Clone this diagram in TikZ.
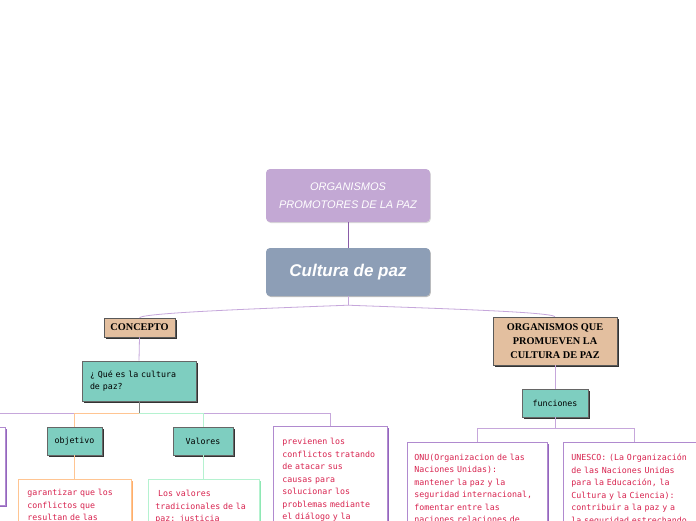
\documentclass[tikz,border=0pt]{standalone}
\usepackage{fontspec}
\setmainfont{Liberation Sans}
\newfontfamily\monof{DejaVu Sans Mono}
\newfontfamily\serifb{Liberation Serif}
\usetikzlibrary{shadows,calc}
\definecolor{topP}{HTML}{C3A8D4}
\definecolor{slate}{HTML}{8D9EB6}
\definecolor{tanC}{HTML}{E3BF9F}
\definecolor{tealC}{HTML}{7ECEC0}
\definecolor{lineP}{HTML}{C6A7DB}
\definecolor{darkP}{HTML}{8A5CA8}
\definecolor{orangeL}{HTML}{FFC592}
\definecolor{orangeD}{HTML}{FFAE6A}
\definecolor{greenL}{HTML}{B5F2D0}
\definecolor{greenD}{HTML}{8EE8B4}
\definecolor{boxP}{HTML}{B08ACF}
\definecolor{boxPD}{HTML}{9466BE}
\definecolor{txtR}{HTML}{D8234F}
\tikzset{
  topbox/.style={fill=topP, rounded corners=4pt, text=white, align=center,
    font=\itshape\fontsize{11}{18}\selectfont, inner sep=0pt,
    minimum width=164pt, minimum height=53pt,
    drop shadow={shadow xshift=0.8pt, shadow yshift=-1pt, fill=black, opacity=0.15}},
  cultbox/.style={fill=slate, rounded corners=4pt, text=white,
    font=\bfseries\itshape\fontsize{17}{20}\selectfont, inner sep=0pt,
    minimum width=164pt, minimum height=48pt,
    drop shadow={shadow xshift=0.8pt, shadow yshift=-1pt, fill=black, opacity=0.25}},
  tanbox/.style={fill=tanC, draw=black!65, line width=0.6pt, align=center,
    font=\serifb\bfseries\fontsize{10.3}{14}\selectfont, inner sep=0pt,
    drop shadow={shadow xshift=2pt, shadow yshift=-2pt, fill=black!80, opacity=1}},
  tealbox/.style={fill=tealC, draw=black!60, line width=0.6pt,
    font=\monof\fontsize{8.3}{12.5}\selectfont, inner sep=0pt,
    drop shadow={shadow xshift=2pt, shadow yshift=-2pt, fill=black!80, opacity=1}},
  txtbox/.style={fill=white, draw=#1, line width=0.8pt, anchor=north west,
    align=left, text=txtR, inner xsep=8pt, inner ysep=10pt,
    font=\monof\fontsize{8.3}{12.5}\selectfont},
  edgeP/.style={draw=lineP, line width=0.8pt},
}
\begin{document}
\begin{tikzpicture}[x=1pt, y=-1pt]
\useasboundingbox (0,0) rectangle (696,520);
\begin{scope}
\clip (0,0) rectangle (696,520);
\fill[white] (0,0) rectangle (696,520);

% main nodes
\node[topbox] (org) at (348,195.5) {ORGANISMOS\\PROMOTORES DE LA PAZ};
\node[cultbox] (cult) at (348,272) {Cultura de paz};
\node[tanbox, minimum width=71pt, minimum height=19pt] (concept) at (139.5,327.5) {CONCEPTO};
\node[tanbox, minimum width=124pt, minimum height=48pt] (orgq) at (555,341) {ORGANISMOS QUE\\PROMUEVEN LA\\CULTURA DE PAZ};

% left branch
\node[tealbox, minimum width=114pt, minimum height=40pt, text width=98pt, align=left] (que) at (139,381) {¿ Qué es la cultura\\de paz?};
\node[tealbox, minimum width=55pt, minimum height=28pt] (obj) at (74.5,441) {objetivo};
\node[tealbox, minimum width=60pt, minimum height=28pt] (val) at (203,441) {Valores};
\node[fill=white, draw=boxP, line width=0.8pt, minimum width=85pt, minimum height=78pt, inner sep=0pt,
  drop shadow={shadow xshift=1.5pt, shadow yshift=-1.5pt, fill=boxPD, opacity=1}] (leftbox) at (-37.5,466) {};

\node[txtbox=orangeL, text width=95pt, inner xsep=9pt,
  drop shadow={shadow xshift=1.5pt, shadow yshift=-1.5pt, fill=orangeD, opacity=1}] (objtext) at (18,479)
  {garantizar que los\\conflictos que\\resultan de las};
\node[txtbox=greenL, text width=97pt, inner xsep=7pt, inner ysep=11pt,
  drop shadow={shadow xshift=1.5pt, shadow yshift=-1.5pt, fill=greenD, opacity=1}] (valtext) at (148,479)
  {\ Los valores\\tradicionales de la\\paz: justicia};
\node[txtbox=boxP, text width=96pt, inner xsep=9pt, inner ysep=12pt,
  drop shadow={shadow xshift=1.5pt, shadow yshift=-1.5pt, fill=boxPD, opacity=1}] (prev) at (273,426)
  {previenen los\\conflictos tratando\\de atacar sus\\causas para\\solucionar los\\problemas mediante\\el diálogo y la};

% right branch
\node[tealbox, minimum width=66pt, minimum height=28pt] (func) at (555,403) {funciones};
\node[txtbox=boxP, text width=126pt, inner xsep=7pt, inner ysep=11.5pt,
  drop shadow={shadow xshift=1.5pt, shadow yshift=-1.5pt, fill=boxPD, opacity=1}] (onu) at (407,442)
  {ONU(Organizacion de las\\Naciones Unidas):\\mantener la paz y la\\seguridad internacional,\\fomentar entre las\\naciones relaciones de};
\node[txtbox=boxP, text width=126pt, inner xsep=8pt, inner ysep=11.5pt,
  drop shadow={shadow xshift=1.5pt, shadow yshift=-1.5pt, fill=boxPD, opacity=1}] (unesco) at (563,442)
  {UNESCO: (La Organización\\de las Naciones Unidas\\para la Educación, la\\Cultura y la Ciencia):\\contribuir a la paz y a\\la seguridad estrechando};

% connectors
\draw[draw=darkP, line width=0.9pt] (org.south) -- (cult.north);
\draw[edgeP] (cult.south) -- ++(0,9) coordinate (jc);
\draw[edgeP] (jc) .. controls ($(jc)+(-80,3)$) and ($(concept.north)+(4,-5)$) .. (concept.north);
\draw[edgeP] (jc) .. controls ($(jc)+(80,3)$) and ($(orgq.north)+(-4,-5)$) .. (orgq.north);
\draw[edgeP] (concept.south) -- (que.north);
\draw[draw=gray, line width=0.9pt] (que.south) -- ++(0,12) coordinate (jq);
\draw[edgeP] (jq) -| (leftbox.north);
\draw[edgeP] (jq) -| (prev.north);
\draw[draw=orangeL, line width=0.8pt] (jq) -| (obj.north);
\draw[draw=greenL, line width=0.8pt] (jq) -| (val.north);
\draw[draw=orangeL, line width=0.8pt] (obj.south) -- (obj.south |- objtext.north);
\draw[draw=greenL, line width=0.8pt] (val.south) -- (val.south |- valtext.north);
\draw[edgeP] (orgq.south) -- (func.north);
\draw[edgeP] (func.south) -- ++(0,11) coordinate (jf);
\draw[edgeP] (jf) -| (onu.north);
\draw[edgeP] (jf) -| (unesco.north);
\end{scope}
\end{tikzpicture}
\end{document}
